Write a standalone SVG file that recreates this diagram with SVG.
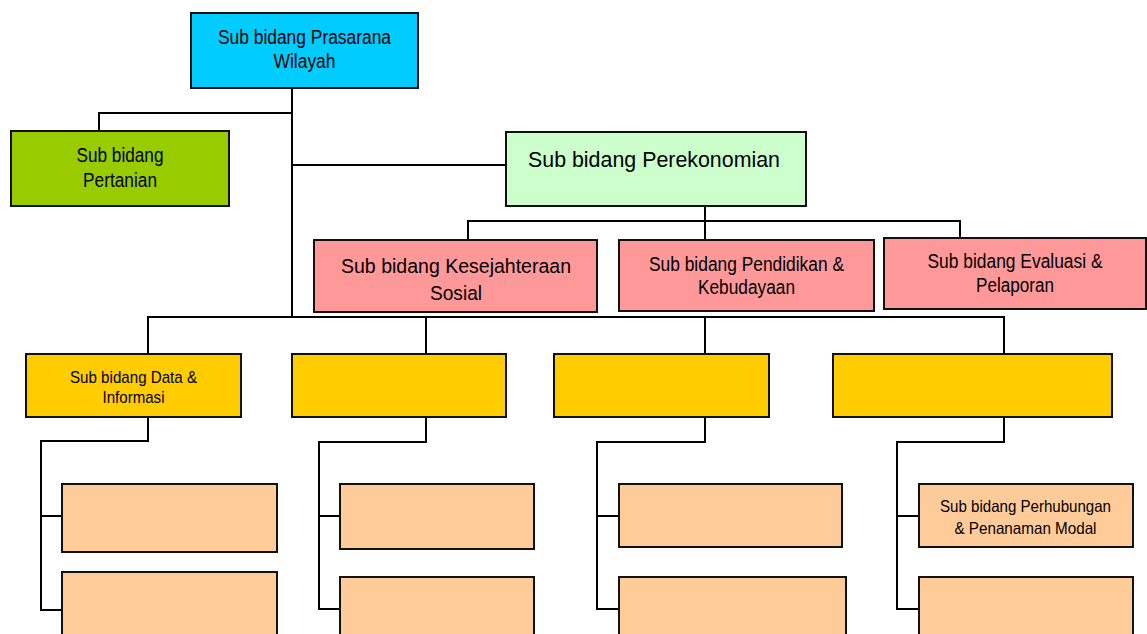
<svg xmlns="http://www.w3.org/2000/svg" width="1147" height="634" viewBox="0 0 1147 634">
<style>
.box{stroke:#111;stroke-width:2}
.cyan{fill:#00CCFF}
.lime{fill:#99CC00}
.mint{fill:#CCFFCC}
.pink{fill:#FF9999}
.gold{fill:#FFCC00}
.peach{fill:#FFCC99}
.conn{fill:none;stroke:#000;stroke-width:2}
text{font-family:"Liberation Sans",Arial,sans-serif;fill:#000;text-anchor:middle}
</style>
<rect width="1147" height="634" fill="#fff"/>
<g id="connectors">
<path class="conn" d="M292,88 V318"/>
<path class="conn" d="M292,113 H99 V131"/>
<path class="conn" d="M292,165 H506"/>
<path class="conn" d="M705,206 V240"/>
<path class="conn" d="M468,240 V221 H960 V238"/>
<path class="conn" d="M148,354 V317 H1004 V354"/>
<path class="conn" d="M426,317 V354"/>
<path class="conn" d="M705,317 V354"/>
<path class="conn" d="M148,417 V441 H41 V610 H62 M41,516 H62"/>
<path class="conn" d="M426,417 V442 H319 V609 H340 M319,516 H340"/>
<path class="conn" d="M705,417 V442 H597 V609 H619 M597,516 H619"/>
<path class="conn" d="M1004,417 V442 H897 V609 H919 M897,516 H919"/>
</g>
<g id="prasarana">
<rect class="box cyan" x="191" y="13" width="227" height="75"/>
<text x="304.5" y="44" font-size="20" textLength="173" lengthAdjust="spacingAndGlyphs">Sub bidang Prasarana</text>
<text x="304.5" y="68" font-size="20" textLength="62" lengthAdjust="spacingAndGlyphs">Wilayah</text>
</g>
<g id="pertanian">
<rect class="box lime" x="11" y="131" width="218" height="75"/>
<text x="120" y="162" font-size="20.5" textLength="87" lengthAdjust="spacingAndGlyphs">Sub bidang</text>
<text x="120" y="187" font-size="20.5" textLength="74" lengthAdjust="spacingAndGlyphs">Pertanian</text>
</g>
<g id="perekonomian">
<rect class="box mint" x="506" y="132" width="300" height="74"/>
<text x="654" y="167" font-size="22" textLength="252" lengthAdjust="spacingAndGlyphs">Sub bidang Perekonomian</text>
</g>
<g id="kesejahteraan">
<rect class="box pink" x="314" y="240" width="283" height="72"/>
<text x="456" y="273" font-size="20.5" textLength="230" lengthAdjust="spacingAndGlyphs">Sub bidang Kesejahteraan</text>
<text x="456" y="300" font-size="20.5" textLength="52" lengthAdjust="spacingAndGlyphs">Sosial</text>
</g>
<g id="pendidikan">
<rect class="box pink" x="619" y="240" width="255" height="71"/>
<text x="746.5" y="271" font-size="19.5" textLength="195" lengthAdjust="spacingAndGlyphs">Sub bidang Pendidikan &amp;</text>
<text x="746.5" y="294" font-size="19.5" textLength="97" lengthAdjust="spacingAndGlyphs">Kebudayaan</text>
</g>
<g id="evaluasi">
<rect class="box pink" x="884" y="238" width="262" height="71"/>
<text x="1015" y="268" font-size="19.5" textLength="175" lengthAdjust="spacingAndGlyphs">Sub bidang Evaluasi &amp;</text>
<text x="1015" y="292" font-size="19.5" textLength="78" lengthAdjust="spacingAndGlyphs">Pelaporan</text>
</g>
<g id="data-informasi">
<rect class="box gold" x="26" y="354" width="215" height="63"/>
<text x="133.5" y="383" font-size="17" textLength="127" lengthAdjust="spacingAndGlyphs">Sub bidang Data &amp;</text>
<text x="133.5" y="403" font-size="17" textLength="62" lengthAdjust="spacingAndGlyphs">Informasi</text>
</g>
<g id="unit2"><rect class="box gold" x="292" y="354" width="214" height="63"/></g>
<g id="unit3"><rect class="box gold" x="554" y="354" width="215" height="63"/></g>
<g id="unit4"><rect class="box gold" x="833" y="354" width="279" height="63"/></g>
<g id="sub1a"><rect class="box peach" x="62" y="484" width="215" height="68"/></g>
<g id="sub1b"><rect class="box peach" x="62" y="572" width="215" height="80"/></g>
<g id="sub2a"><rect class="box peach" x="340" y="484" width="194" height="65"/></g>
<g id="sub2b"><rect class="box peach" x="340" y="577" width="194" height="80"/></g>
<g id="sub3a"><rect class="box peach" x="619" y="484" width="223" height="63"/></g>
<g id="sub3b"><rect class="box peach" x="619" y="577" width="227" height="80"/></g>
<g id="perhubungan">
<rect class="box peach" x="919" y="484" width="214" height="63"/>
<text x="1025.5" y="512" font-size="16.5" textLength="171" lengthAdjust="spacingAndGlyphs">Sub bidang Perhubungan</text>
<text x="1025.5" y="534" font-size="16.5" textLength="142" lengthAdjust="spacingAndGlyphs">&amp; Penanaman Modal</text>
</g>
<g id="sub4b"><rect class="box peach" x="919" y="577" width="214" height="80"/></g>
</svg>
